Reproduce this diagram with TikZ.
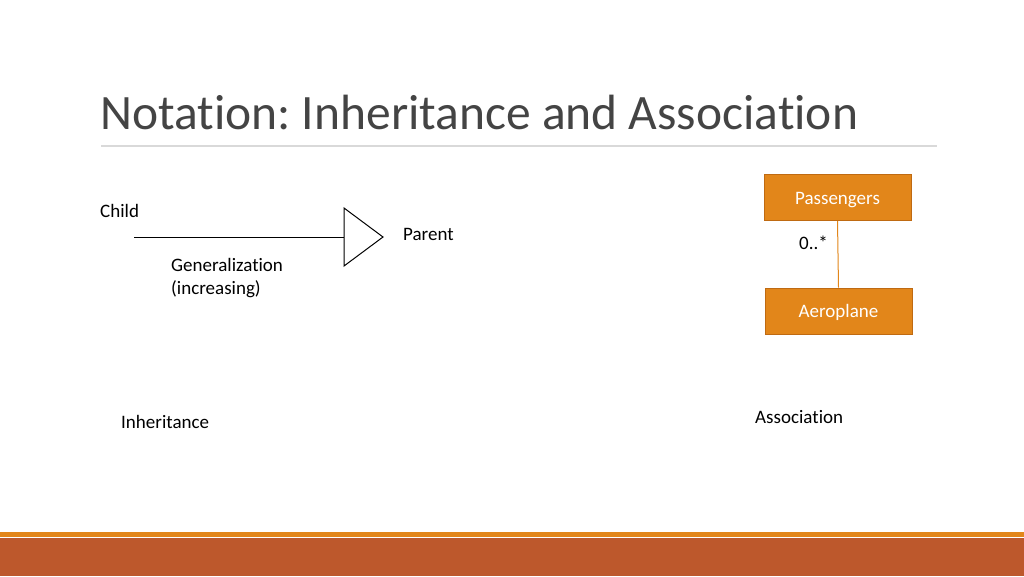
\documentclass[tikz,border=0pt]{standalone}
\usepackage{fontspec}
\setmainfont[Ligatures=NoCommon]{Carlito}
\frenchspacing
\definecolor{boxorange}{HTML}{E2861A}
\definecolor{boxedge}{HTML}{BF6A12}
\definecolor{darkband}{HTML}{BD582C}
\definecolor{titlegray}{HTML}{444444}
\definecolor{rulegray}{HTML}{D9D9D9}
\begin{document}
\begin{tikzpicture}[x=1pt,y=-1pt,
  txt/.style={font=\fontsize{19}{23}\selectfont, text=black, inner sep=0pt, anchor=west},
  umlbox/.style={draw=boxedge, fill=boxorange, line width=1pt, minimum width=147pt, minimum height=46pt, inner sep=0pt, text height=17pt, text depth=4pt, text=white, font=\fontsize{19}{23}\selectfont}]
\useasboundingbox (0,0) rectangle (1024,576);
\fill[white] (0,0) rectangle (1024,576);
% title
\node[anchor=base west, inner sep=0pt, text=titlegray, font=\fontsize{49.5}{56}\selectfont] (title) at (100,129) {Notation: Inheritance and Association};
\draw[rulegray, line width=1.5pt] (101,146) -- (937,146);
% inheritance
\node[txt] (child) at (100,211) {Child};
\coordinate (lstart) at (134,237);
\coordinate (tb) at (344,237);
\draw[line width=1pt] (lstart) -- (tb);
\draw[line width=1pt, fill=white] (344,208) -- (383,237) -- (344,266) -- cycle;
\node[txt] (parent) at (403,234) {Parent};
\node[txt, align=left, anchor=north west] (gen) at (171,258) {Generalization\\(increasing)};
\node[txt] (inh) at (121,422) {Inheritance};
% association
\node[umlbox] (pass) at (837.5,197.5) {Passengers};
\node[umlbox] (aero) at (838.5,311) {Aeroplane};
\draw[boxorange, line width=1pt] (pass.south) -- (aero.north);
\node[txt] (mult) at (799,243) {0..*};
\node[txt] (assoc) at (755,417) {Association};
% bottom bands
\fill[boxorange] (0,532) rectangle (1024,537);
\fill[darkband] (0,538) rectangle (1024,576);
\end{tikzpicture}
\end{document}
